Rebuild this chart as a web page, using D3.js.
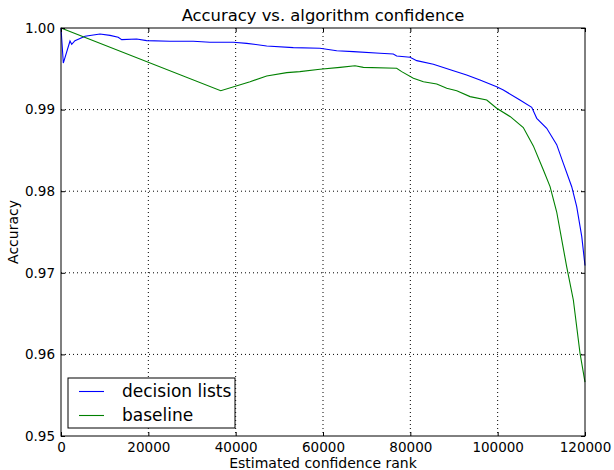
<!DOCTYPE html>
<html>
<head>
<meta charset="utf-8">
<script src="https://cdn.jsdelivr.net/npm/d3@7"></script>
<style>
  body { margin: 0; background: #fff; }
  text { font-family: "DejaVu Sans", sans-serif; fill: #000; }
</style>
</head>
<body>
<div class="svg-container"></div>
<script>
// values
var rankDecision = [0, 530, 2060, 2450, 3200, 5500, 8930, 11220, 13100, 13900, 17330, 19600, 24960, 30300,
    34100, 39460, 42530, 47100, 53200, 59300, 63140, 66950, 73060, 76100, 76870, 79930, 81470, 85270, 89860,
    92900, 95950, 99770, 101300, 105100, 107800, 108950, 111230, 113520, 115040, 116960, 118100, 119260, 120000];
var accDecision = [1.0, 0.9957, 0.9984, 0.9980, 0.99845, 0.9990, 0.99926, 0.9991, 0.99886, 0.99857, 0.99865,
    0.99845, 0.99837, 0.99837, 0.99825, 0.99825, 0.99812, 0.9978, 0.99759, 0.99751, 0.99722, 0.9971, 0.9969,
    0.99681, 0.99657, 0.99641, 0.996, 0.99555, 0.99477, 0.99424, 0.99363, 0.99281, 0.9924, 0.99118, 0.99028,
    0.98893, 0.98771, 0.98570, 0.98341, 0.98055, 0.97811, 0.97443, 0.9709];

var rankBaseline = [0, 36580, 43300, 47100, 51700, 54700, 59300, 63900, 67330, 69240, 76870, 78020, 80700,
    83000, 86050, 88340, 90630, 93680, 97500, 99770, 102900, 105870, 108170, 110470, 112000, 113520, 115800,
    117330, 118860, 120000];
var accBaseline = [1.0, 0.99232, 0.99342, 0.99412, 0.99453, 0.99465, 0.99494, 0.99518, 0.99538, 0.99518,
    0.99506, 0.99465, 0.99384, 0.99342, 0.99314, 0.99261, 0.99232, 0.99159, 0.99118, 0.99016, 0.98913,
    0.9878, 0.98555, 0.9826, 0.98056, 0.97745, 0.97075, 0.96667, 0.96014, 0.9566];

var xTicks = [0, 20000, 40000, 60000, 80000, 100000, 120000];
var yTicks = [0.95, 0.96, 0.97, 0.98, 0.99, 1.00];
var seriesNames = ["decision lists", "baseline"];
var seriesColors = ["#0000ff", "#008000"];

// set up margin
var margin = {top: 28, right: 29, bottom: 34, left: 61},
    width = 614 - margin.left - margin.right,
    height = 470 - margin.top - margin.bottom;

var svg = d3.select(".svg-container").append("svg")
    .attr("width", 614)
    .attr("height", 470);

var g = svg.append("g")
    .attr("transform", "translate(" + margin.left + "," + margin.top + ")");

var xScale = d3.scaleLinear().domain([0, 120000]).range([0, width]),
    yScale = d3.scaleLinear().domain([0.95, 1.0]).range([height, 0]);

var series = [
    {name: seriesNames[0], color: seriesColors[0],
        values: rankDecision.map(function (r, i) { return {x: r, y: accDecision[i]}; })},
    {name: seriesNames[1], color: seriesColors[1],
        values: rankBaseline.map(function (r, i) { return {x: r, y: accBaseline[i]}; })}
];

// dotted grid
g.append("g")
    .selectAll("line")
    .data(xTicks.slice(1, -1))
    .enter().append("line")
    .attr("x1", function (d) { return xScale(d); })
    .attr("x2", function (d) { return xScale(d); })
    .attr("y1", 0).attr("y2", height)
    .attr("stroke", "#000").attr("stroke-width", 1)
    .attr("stroke-dasharray", "1,3");

g.append("g")
    .selectAll("line")
    .data(yTicks.slice(1, -1))
    .enter().append("line")
    .attr("y1", function (d) { return yScale(d); })
    .attr("y2", function (d) { return yScale(d); })
    .attr("x1", 0).attr("x2", width)
    .attr("stroke", "#000").attr("stroke-width", 1)
    .attr("stroke-dasharray", "1,3");

var line = d3.line()
    .x(function (d) { return xScale(d.x); })
    .y(function (d) { return yScale(d.y); });

g.append("g")
    .selectAll("path")
    .data(series)
    .enter().append("path")
    .attr("d", function (d) { return line(d.values); })
    .attr("fill", "none")
    .attr("stroke", function (d) { return d.color; })
    .attr("stroke-width", 1.1);

// axes, ticks pointing inward on all four sides
function styleAxis(sel) {
    sel.select(".domain").remove();
    sel.selectAll(".tick line").attr("stroke", "#000");
    sel.selectAll(".tick text")
        .style("font-family", "DejaVu Sans, sans-serif")
        .style("font-size", "13.5px");
}

g.append("g")
    .attr("transform", "translate(0," + height + ")")
    .call(d3.axisBottom(xScale).tickValues(xTicks).tickFormat(d3.format("d"))
        .tickSizeInner(-4).tickPadding(6))
    .call(styleAxis);

g.append("g")
    .call(d3.axisTop(xScale).tickValues(xTicks).tickFormat("").tickSizeInner(-4))
    .call(styleAxis);

g.append("g")
    .call(d3.axisLeft(yScale).tickValues(yTicks).tickFormat(d3.format(".2f"))
        .tickSizeInner(-4).tickPadding(6))
    .call(styleAxis);

g.append("g")
    .attr("transform", "translate(" + width + ",0)")
    .call(d3.axisRight(yScale).tickValues(yTicks).tickFormat("").tickSizeInner(-4))
    .call(styleAxis);

// frame
g.append("rect")
    .attr("width", width).attr("height", height)
    .attr("fill", "none").attr("stroke", "#000").attr("stroke-width", 1);

// titles
svg.append("text")
    .attr("x", margin.left + width / 2).attr("y", 21)
    .style("text-anchor", "middle").style("font-size", "16.4px")
    .text("Accuracy vs. algorithm confidence");

svg.append("text")
    .attr("x", margin.left + width / 2).attr("y", 468)
    .style("text-anchor", "middle").style("font-size", "14px")
    .text("Estimated confidence rank");

svg.append("text")
    .attr("transform", "translate(18," + (margin.top + height / 2) + ") rotate(-90)")
    .style("text-anchor", "middle").style("font-size", "14px")
    .text("Accuracy");

// legend
var legend = g.append("g").attr("transform", "translate(7," + (height - 58) + ")");
legend.append("rect")
    .attr("width", 167).attr("height", 50)
    .attr("fill", "#fff").attr("stroke", "#000").attr("stroke-width", 1);

var item = legend.selectAll(".item")
    .data(series)
    .enter().append("g")
    .attr("class", "item")
    .attr("transform", function (d, i) { return "translate(0," + (13.5 + i * 24) + ")"; });

item.append("line")
    .attr("x1", 11).attr("x2", 36)
    .attr("stroke", function (d) { return d.color; })
    .attr("stroke-width", 1.1);

item.append("text")
    .attr("x", 54).attr("dy", "0.35em")
    .style("font-size", "17px")
    .text(function (d) { return d.name; });
</script>
</body>
</html>
